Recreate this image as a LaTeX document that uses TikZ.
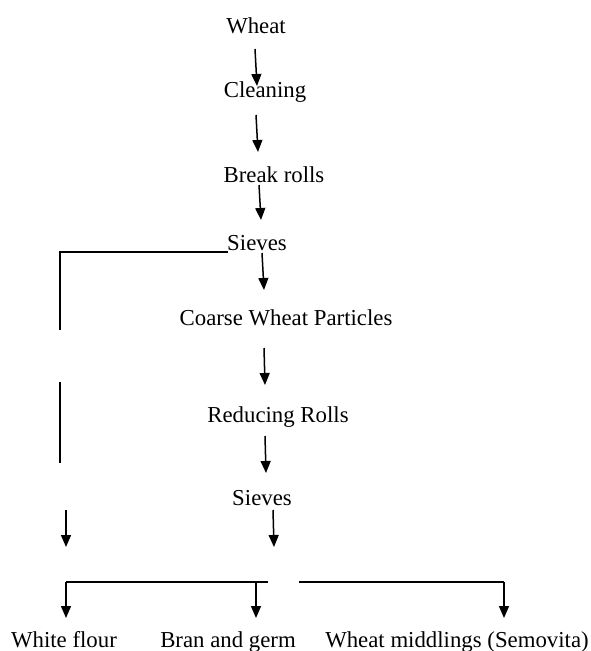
\documentclass[tikz,border=0pt]{standalone}
\usepackage{fontspec}
\setmainfont{Liberation Serif}
\usetikzlibrary{arrows.meta}
\begin{document}
\begin{tikzpicture}
% flow chart of wheat milling, drawn on a pixel grid
\def\pxsz{1pt}
\providecommand{\flowLineWidth}{1.5pt}
\providecommand{\flowTip}{Triangle[width=10pt,length=12pt]}
\begin{scope}[x=\pxsz, y=-\pxsz, line cap=butt, line join=miter,
  step text/.style={anchor=base, inner sep=0pt, font=\fontsize{22.8}{27}\selectfont},
  flow line/.style={line width=\flowLineWidth},
  flow arrow/.style={flow line, -{\flowTip}}]
  \useasboundingbox (0,0) rectangle (590,651);
  % Process steps
  \node[step text] (wheat)  at (256,33)  {Wheat};
  \node[step text] (clean)  at (265,97)  {Cleaning};
  \node[step text] (brk)    at (274,182) {Break rolls};
  \node[step text] (sieveA) at (257,250) {Sieves};
  \node[step text] (coarse) at (286,325) {Coarse Wheat Particles};
  \node[step text] (reduce) at (278,422) {Reducing Rolls};
  \node[step text] (sieveB) at (262,505) {Sieves};
  % Products
  \node[step text] (flour)  at (64,647)  {White flour};
  \node[step text] (bran)   at (228,647) {Bran and germ};
  \node[step text] (midd)   at (457,647) {Wheat middlings (Semovita)};
  % Free ends and forks
  \coordinate (bendL)    at (60,252);
  \coordinate (gapTop)   at (60,330);
  \coordinate (gapBot)   at (60,382);
  \coordinate (lineEnd)  at (60,463);
  \coordinate (dropLtop) at (66,510);
  \coordinate (dropL)    at (66,547);
  \coordinate (dropR)    at (274,547);
  \coordinate (forkL)    at (66,582);
  \coordinate (forkB)    at (256,582);
  \coordinate (forkM)    at (268,582);
  \coordinate (forkR0)   at (299,582);
  \coordinate (forkR)    at (504,582);
  % Main line
  \draw[flow arrow] ([shift={(-1,16)}]wheat.base)   -- ([shift={(-8,-11)}]clean.base);
  \draw[flow arrow] ([shift={(-9,18)}]clean.base)   -- ([shift={(-16,-30)}]brk.base);
  \draw[flow arrow] ([shift={(-15,3)}]brk.base)     -- ([shift={(4,-30)}]sieveA.base);
  \draw[flow arrow] ([shift={(5,3)}]sieveA.base)    -- ([shift={(-22,-35)}]coarse.base);
  \draw[flow arrow] ([shift={(-22,23)}]coarse.base) -- ([shift={(-13,-37)}]reduce.base);
  \draw[flow arrow] ([shift={(-13,14)}]reduce.base) -- ([shift={(4,-32)}]sieveB.base);
  \draw[flow arrow] ([shift={(11,5)}]sieveB.base)   -- (dropR);
  % Side line from the first sieves
  \draw[flow line] ([shift={(-29,2)}]sieveA.base) -- (bendL) -- (gapTop);
  \draw[flow line] (gapBot) -- (lineEnd);
  \draw[flow arrow] (dropLtop) -- (dropL);
  % Forks to the products
  \draw[flow line] (forkL) -- (forkM);
  \draw[flow line] (forkR0) -- (forkR);
  \draw[flow arrow] (forkL) -- ([shift={(2,-29)}]flour.base);
  \draw[flow arrow] (forkB) -- ([shift={(28,-29)}]bran.base);
  \draw[flow arrow] (forkR) -- ([shift={(47,-29)}]midd.base);
\end{scope}
\end{tikzpicture}
\end{document}
